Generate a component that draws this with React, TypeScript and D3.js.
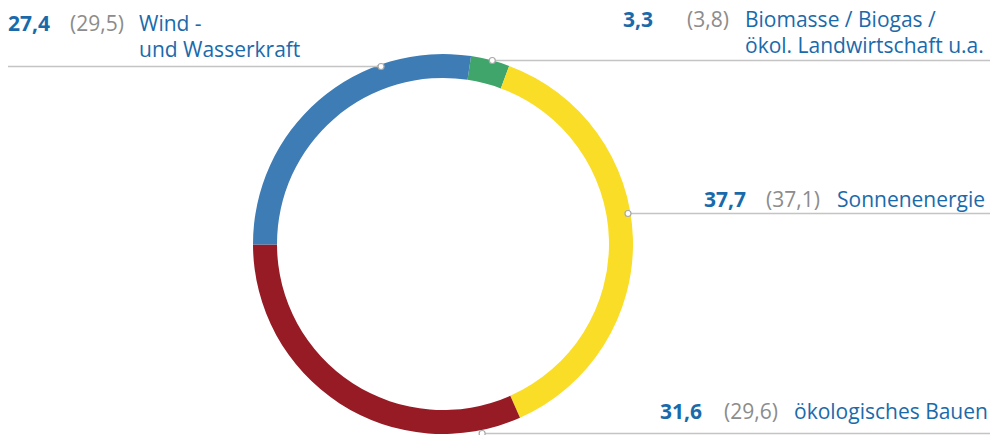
import React from "react";
import * as d3 from "d3";

const categories = ["Biomasse", "Sonnenenergie", "Bauen", "Wind"];
const values = [3.3, 37.7, 31.6, 27.4];
const prevValues = [3.8, 37.1, 29.6, 29.5];
const valueLabels = ["3,3", "37,7", "31,6", "27,4"];
const prevLabels = ["(3,8)", "(37,1)", "(29,6)", "(29,5)"];
const nameLines = [
  ["Biomasse / Biogas /", "ökol. Landwirtschaft u.a."],
  ["Sonnenenergie"],
  ["ökologisches Bauen"],
  ["Wind -", "und Wasserkraft"],
];
const colors = ["#3fa56b", "#f9dd27", "#961b25", "#3e7cb5"];

// layout (positions of labels)
const W = 990, H = 435;
const cx = 443, cy = 244, R = 190, r = 166;
const startDeg = 8.5;
const labelLayout = [
  { lineY: 60.5, side: 1, dotR: 190, xVal: 623, xPrev: 687, xName: 745, base: 27 },
  { lineY: 213.5, side: 1, dotR: 187.5, xVal: 704, xPrev: 766, xName: 837, base: 207 },
  { lineY: 433.5, side: 1, dotR: 193.5, xVal: 660, xPrev: 724, xName: 794, base: 419 },
  { lineY: 66.5, side: -1, dotR: 188, xVal: 8, xPrev: 70, xName: 139, base: 31 },
];

export default function App() {
  const s = (startDeg * Math.PI) / 180;
  const pie = d3.pie<number>().sort(null).startAngle(s).endAngle(s + 2 * Math.PI);
  const arcs = pie(values);
  const arc = d3.arc<d3.PieArcDatum<number>>().innerRadius(r).outerRadius(R);
  const font = "'Open Sans', 'Noto Sans', sans-serif";
  const fs = 21;

  return (
    <svg width={W} height={H} style={{ position: "absolute", left: 0, top: 0 }} fontFamily={font}>
      <rect width={W} height={H} fill="#fff" />
      <g transform={`translate(${cx},${cy})`}>
        {arcs.map((a, i) => (
          <path key={categories[i]} d={arc(a) || ""} fill={colors[i]} />
        ))}
      </g>
      {labelLayout.map((L, i) => {
        const dy = L.lineY - cy;
        const dx = Math.sqrt(Math.max(0, L.dotR * L.dotR - dy * dy));
        const dotX = cx + L.side * dx;
        const x1 = L.side > 0 ? dotX : 8;
        const x2 = L.side > 0 ? W : dotX;
        return (
          <g key={"l" + i}>
            <line x1={x1} x2={x2} y1={L.lineY} y2={L.lineY} stroke="#c4c4c4" strokeWidth={1.3} />
            <circle cx={dotX} cy={L.lineY} r={3} fill="#fff" stroke="#a8a8a8" strokeWidth={1.2} />
            <text x={L.xVal} y={L.base} fontSize={fs} fontWeight={700} fill="#1a6aab">{valueLabels[i]}</text>
            <text x={L.xPrev} y={L.base} fontSize={fs} fill="#8c8c8c">{prevLabels[i]}</text>
            <text x={L.xName} y={L.base} fontSize={fs} fill="#1a6aab">
              {nameLines[i].map((t, j) => (
                <tspan key={j} x={L.xName} dy={j === 0 ? 0 : 26}>{t}</tspan>
              ))}
            </text>
          </g>
        );
      })}
    </svg>
  );
}
